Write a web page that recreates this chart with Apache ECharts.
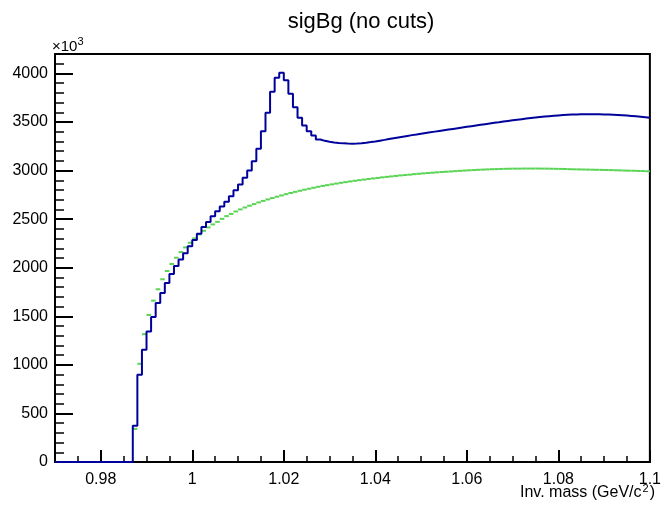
<!DOCTYPE html>
<html><head><meta charset="utf-8">
<script src="https://cdn.jsdelivr.net/npm/echarts@6/dist/echarts.min.js"></script>
<style>html,body{margin:0;padding:0;background:#fff}#c{width:664px;height:505px}</style>
</head><body><div id="c"></div>
<script>
// Histogram binning (x axis): 130 bins of 0.001 from 0.97 to 1.1
const xMin = 0.97, xMax = 1.1, binWidth = 0.001;

// Blue histogram (signal + background), units of 10^3
const sigBgValues = [
  0,0,0,0,0,0,0,0,0,0, 0,0,0,0,0,0,0,374,897,1155,
  1343,1492,1636,1739,1842,1935,2018,2085,2150,2220,
  2285,2350,2420,2470,2530,2580,2630,2680,2735,2797,
  2856,2925,3000,3096,3224,3405,3595,3811,3956,4007,
  3931,3790,3653,3543,3464,3405,3361,3320,3306,3296,
  3289,3284,3280,3278,3277,3278,3282,3287,3293,3300,
  3308,3316,3325,3333,3341,3349,3357,3365,3372,3380,
  3387,3394,3401,3408,3415,3422,3429,3436,3443,3450,
  3457,3464,3471,3478,3485,3492,3498,3505,3511,3517,
  3523,3529,3535,3541,3546,3551,3556,3560,3564,3568,
  3571,3574,3576,3578,3579,3580,3580,3580,3579,3578,
  3577,3575,3573,3570,3567,3563,3559,3555,3550,3544
];

// Green histogram (background), units of 10^3
const bgValues = [
  0,0,0,0,0,0,0,0,0,0, 0,0,0,0,0,0,0,341,1011,1316,
  1514,1661,1778,1881,1966,2038,2103,2161,2209,2257,
  2302,2343,2380,2415,2446,2472,2503,2531,2554,2579,
  2600,2620,2638,2655,2672,2688,2703,2717,2731,2744,
  2757,2769,2781,2792,2803,2813,2823,2833,2842,2850,
  2858,2866,2874,2881,2888,2895,2901,2907,2913,2919,
  2924,2930,2935,2940,2945,2950,2954,2958,2963,2967,
  2971,2975,2978,2982,2985,2988,2991,2994,2997,3000,
  3003,3005,3008,3010,3012,3014,3015,3017,3018,3019,
  3020,3020,3021,3021,3021,3021,3020,3020,3019,3018,
  3017,3016,3014,3013,3012,3011,3010,3009,3008,3007,
  3006,3005,3003,3002,3000,2999,2998,2996,2995,2993
];

const xTickLabels = [0.98, 1, 1.02, 1.04, 1.06, 1.08, 1.1];
const yTickLabels = [0, 500, 1000, 1500, 2000, 2500, 3000, 3500, 4000];
const yMax = 4200;

const r6 = v => Math.round(v * 1e6) / 1e6;
const edge = i => r6(xMin + i * binWidth);

const xMinorTicks = [];
for (let i = 0; ; i++) { const v = r6(0.975 + i * 0.005); if (v > xMax + 1e-9) break; xMinorTicks.push(v); }
const yMinorTicks = [];
for (let v = 0; v <= yMax; v += 100) yMinorTicks.push(v);

const blueData = sigBgValues.map((v, i) => [edge(i), v]);
blueData.push([xMax, sigBgValues[sigBgValues.length - 1]]);
const greenData = bgValues.map((v, i) => [edge(i), edge(i + 1), v]);

const font = 'Liberation Sans, Helvetica, Arial, sans-serif';
const chart = echarts.init(document.getElementById('c'), null, { renderer: 'canvas' });
chart.setOption({
  animation: false,
  backgroundColor: '#fff',
  grid: { left: 55, right: 7, top: 54, bottom: 43, show: true, borderColor: '#000', borderWidth: 2, backgroundColor: 'transparent' },
  title: {
    text: 'sigBg (no cuts)', left: 356, top: 6, textAlign: 'center',
    textStyle: { fontFamily: font, fontSize: 22, fontWeight: 'normal', color: '#000' }
  },
  xAxis: [{
    type: 'value', min: xMin, max: xMax, position: 'bottom',
    axisLine: { show: true, onZero: false, lineStyle: { color: '#000', width: 2 } },
    axisTick: { show: true, inside: true, length: 12, customValues: xTickLabels, lineStyle: { color: '#000', width: 2 } },
    axisLabel: { show: true, customValues: xTickLabels, margin: 10, color: '#000', fontFamily: font, fontSize: 16,
      formatter: v => String(r6(v)) },
    splitLine: { show: false }
  }, {
    type: 'value', min: xMin, max: xMax, position: 'bottom', gridIndex: 0,
    axisLine: { show: false },
    axisTick: { show: true, inside: true, length: 6, customValues: xMinorTicks, lineStyle: { color: '#000', width: 1.5 } },
    axisLabel: { show: false },
    splitLine: { show: false }
  }],
  yAxis: [{
    type: 'value', min: 0, max: yMax,
    axisLine: { show: true, onZero: false, lineStyle: { color: '#000', width: 2 } },
    axisTick: { show: true, inside: true, length: 18, customValues: yTickLabels, lineStyle: { color: '#000', width: 2 } },
    axisLabel: { show: true, customValues: yTickLabels, margin: 7, color: '#000', fontFamily: font, fontSize: 16,
      formatter: v => String(v) },
    splitLine: { show: false }
  }, {
    type: 'value', min: 0, max: yMax, position: 'left',
    axisLine: { show: false },
    axisTick: { show: true, inside: true, length: 9, customValues: yMinorTicks, lineStyle: { color: '#000', width: 1.5 } },
    axisLabel: { show: false },
    splitLine: { show: false }
  }],
  series: [{
    type: 'custom', name: 'bg', xAxisIndex: 0, yAxisIndex: 0, z: 2,
    data: greenData,
    encode: { x: [0, 1], y: 2 },
    renderItem: (params, api) => {
      const p1 = api.coord([api.value(0), api.value(2)]);
      const p2 = api.coord([api.value(1), api.value(2)]);
      return { type: 'line', shape: { x1: p1[0], y1: p1[1], x2: p2[0], y2: p2[1] },
        style: { stroke: '#59d454', lineWidth: 2 } };
    },
    clip: true
  }, {
    type: 'line', name: 'sigBg', xAxisIndex: 0, yAxisIndex: 0, z: 3,
    data: blueData, step: 'end', showSymbol: false, symbol: 'none',
    lineStyle: { color: '#00009a', width: 2 }, clip: true
  }],
  graphic: [{
    type: 'text', left: 52, top: 36,
    style: { text: '{a|×10}{s|3}', rich: {
      a: { fontFamily: font, fontSize: 15, lineHeight: 18, fill: '#000', verticalAlign: 'bottom' },
      s: { fontFamily: font, fontSize: 11, lineHeight: 18, fill: '#000', verticalAlign: 'top' } } }
  }, {
    type: 'text', left: 520, top: 483,
    style: { text: '{a|Inv. mass (GeV/c}{s|2}{a|)}', rich: {
      a: { fontFamily: font, fontSize: 16, lineHeight: 18, fill: '#000', verticalAlign: 'bottom' },
      s: { fontFamily: font, fontSize: 11, lineHeight: 18, fill: '#000', verticalAlign: 'top', padding: [0, 1, 0, 1] } } }
  }]
});
</script>
</body></html>
